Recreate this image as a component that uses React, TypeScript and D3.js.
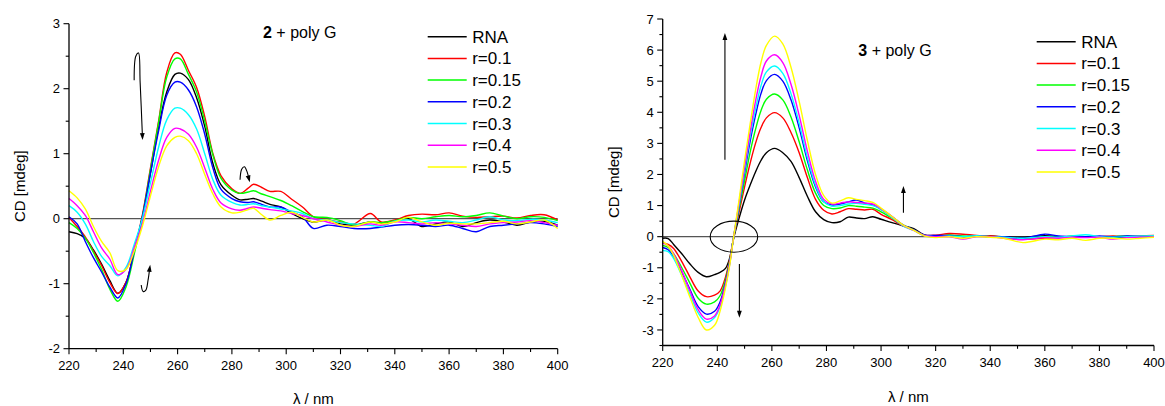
import React from "react";
import * as d3 from "d3";

// ---------- DATA ----------
const SERIES_NAMES = ["RNA", "r=0.1", "r=0.15", "r=0.2", "r=0.3", "r=0.4", "r=0.5"];
const SERIES_COLORS = ["#000000", "#ff0000", "#00ff00", "#0000ff", "#00ffff", "#ff00ff", "#ffff00"];

const X_TICKS = [220, 240, 260, 280, 300, 320, 340, 360, 380, 400];
const Y_TICKS_LEFT = [-2, -1, 0, 1, 2, 3];
const Y_TICKS_RIGHT = [-3, -2, -1, 0, 1, 2, 3, 4, 5, 6, 7];

// Left panel: 2 + poly G
const LAMBDA_L = [220, 223, 226, 229, 232, 235, 238, 241, 244, 247, 250, 253, 256, 259, 261, 264, 267, 270, 273, 276, 280, 283, 286, 288, 291, 294, 298, 302, 306, 310, 315, 320, 325, 331, 335, 340, 345, 350, 355, 360, 365, 370, 375, 380, 385, 390, 395, 400];
const RNA_L = [-0.2, -0.23, -0.3, -0.48, -0.7, -0.95, -1.15, -0.98, -0.5, 0.02, 0.7, 1.4, 1.95, 2.22, 2.24, 2.14, 1.86, 1.42, 0.85, 0.52, 0.36, 0.29, 0.3, 0.31, 0.27, 0.22, 0.18, 0.08, 0.0, -0.05, -0.02, -0.08, -0.1, -0.05, -0.07, -0.03, 0.0, -0.12, -0.08, -0.05, -0.12, -0.06, -0.02, -0.05, -0.1, -0.05, -0.04, -0.1];
const R01_L = [0.02, -0.12, -0.28, -0.5, -0.72, -0.98, -1.15, -0.98, -0.5, 0.05, 0.78, 1.5, 2.25, 2.55, 2.53, 2.28, 2.02, 1.57, 1.0, 0.66, 0.46, 0.39, 0.47, 0.53, 0.48, 0.42, 0.42, 0.3, 0.18, 0.03, -0.02, -0.05, -0.08, 0.08, -0.05, -0.02, 0.05, 0.07, 0.06, 0.09, 0.04, 0.02, 0.03, 0.04, 0.01, 0.05, 0.06, -0.02];
const R015_L = [-0.06, -0.15, -0.3, -0.52, -0.78, -1.08, -1.27, -1.05, -0.55, 0.02, 0.75, 1.48, 2.18, 2.46, 2.46, 2.22, 1.95, 1.5, 0.98, 0.62, 0.44, 0.39, 0.41, 0.43, 0.38, 0.34, 0.28, 0.2, 0.11, 0.03, 0.02, -0.03, -0.1, -0.05, -0.06, -0.03, 0.02, 0.0, 0.03, 0.05, 0.03, 0.05, 0.09, 0.04, 0.0, 0.03, 0.02, -0.03];
const R02_L = [0.03, -0.08, -0.35, -0.6, -0.82, -1.05, -1.22, -1.0, -0.5, 0.02, 0.7, 1.35, 1.9, 2.1, 2.1, 1.98, 1.72, 1.3, 0.78, 0.45, 0.31, 0.26, 0.25, 0.26, 0.22, 0.18, 0.18, 0.1, 0.03, -0.15, -0.1, -0.12, -0.15, -0.15, -0.13, -0.1, -0.09, -0.1, -0.12, -0.1, -0.15, -0.2, -0.12, -0.1, -0.08, -0.06, -0.08, -0.12];
const R03_L = [0.2, 0.1, -0.08, -0.35, -0.58, -0.72, -0.88, -0.75, -0.4, 0.0, 0.55, 1.1, 1.52, 1.7, 1.7, 1.6, 1.38, 1.0, 0.6, 0.36, 0.25, 0.21, 0.22, 0.23, 0.2, 0.18, 0.15, 0.12, 0.08, 0.0, -0.02, -0.06, -0.08, -0.1, -0.12, -0.04, -0.02, -0.05, -0.02, -0.04, -0.06, -0.02, 0.03, -0.02, -0.03, -0.01, -0.02, -0.06];
const R04_L = [0.31, 0.2, 0.05, -0.2, -0.45, -0.62, -0.86, -0.78, -0.45, -0.08, 0.42, 0.9, 1.25, 1.39, 1.38, 1.3, 1.1, 0.78, 0.45, 0.24, 0.15, 0.13, 0.16, 0.18, 0.16, 0.14, 0.12, 0.08, 0.05, 0.0, -0.05, -0.1, -0.12, -0.08, -0.1, -0.05, -0.06, -0.08, -0.06, -0.08, -0.1, -0.12, -0.08, -0.06, -0.05, -0.03, -0.06, -0.1];
const R05_L = [0.43, 0.32, 0.15, -0.12, -0.35, -0.52, -0.8, -0.78, -0.5, -0.12, 0.35, 0.8, 1.12, 1.25, 1.27, 1.2, 1.0, 0.68, 0.38, 0.18, 0.09, 0.1, 0.14, 0.16, 0.06, -0.02, 0.05, 0.1, 0.02, -0.05, -0.02, -0.1, -0.12, -0.05, -0.08, -0.05, 0.02, -0.05, -0.1, -0.07, -0.08, -0.08, -0.06, -0.04, -0.08, -0.05, -0.02, -0.15];

// Right panel: 3 + poly G
const LAMBDA_R = [220, 222, 224, 227, 230, 233, 236, 239, 241, 243, 244.5, 246, 248, 250, 252, 254, 256, 258, 261, 264, 267, 270, 273, 276, 279, 282, 285, 288, 291, 294, 297, 300, 304, 308, 312, 316, 320, 325, 330, 335, 340, 345, 352, 360, 365, 370, 375, 380, 385, 390, 395, 400];
const RNA_R = [-0.05, -0.06, -0.25, -0.55, -0.88, -1.15, -1.29, -1.22, -1.15, -1.02, -0.7, -0.05, 0.6, 1.18, 1.65, 2.08, 2.45, 2.7, 2.84, 2.7, 2.42, 1.9, 1.3, 0.8, 0.55, 0.45, 0.48, 0.63, 0.6, 0.58, 0.64, 0.56, 0.45, 0.35, 0.26, 0.05, 0.02, 0.05, 0.0, 0.02, 0.02, 0.0, -0.02, 0.03, 0.0, -0.02, 0.0, 0.0, -0.03, -0.01, 0.0, 0.01];
const R01_R = [-0.2, -0.25, -0.38, -0.8, -1.3, -1.75, -1.93, -1.88, -1.75, -1.3, -0.75, -0.02, 0.8, 1.6, 2.35, 3.0, 3.5, 3.82, 3.99, 3.82, 3.35, 2.7, 1.9, 1.2, 0.85, 0.73, 0.8, 0.9, 0.88, 0.86, 0.88, 0.72, 0.55, 0.35, 0.22, 0.05, 0.05, 0.1, 0.08, 0.04, 0.02, -0.02, -0.08, -0.05, -0.03, 0.0, -0.02, 0.0, 0.02, 0.0, 0.03, 0.04];
const R015_R = [-0.28, -0.35, -0.55, -1.0, -1.5, -1.98, -2.17, -2.1, -1.9, -1.4, -0.8, -0.02, 0.9, 1.8, 2.7, 3.45, 4.05, 4.42, 4.59, 4.4, 3.85, 3.05, 2.15, 1.4, 1.0, 0.9, 0.92, 1.0, 0.98, 0.95, 0.92, 0.8, 0.6, 0.38, 0.22, 0.04, 0.02, 0.05, 0.02, 0.02, 0.0, -0.03, -0.08, 0.0, -0.03, 0.02, 0.0, -0.03, 0.0, 0.02, 0.0, 0.02];
const R02_R = [-0.35, -0.42, -0.65, -1.15, -1.7, -2.25, -2.49, -2.4, -2.1, -1.5, -0.85, 0.0, 1.0, 2.05, 3.05, 3.9, 4.6, 5.02, 5.22, 5.0, 4.4, 3.5, 2.45, 1.6, 1.12, 1.02, 1.05, 1.12, 1.18, 1.08, 1.02, 0.88, 0.65, 0.38, 0.22, 0.05, 0.04, 0.03, 0.0, 0.02, 0.0, 0.0, -0.05, 0.08, 0.02, 0.0, 0.0, 0.02, 0.0, 0.02, 0.01, 0.0];
const R03_R = [-0.45, -0.48, -0.7, -1.25, -1.85, -2.45, -2.75, -2.6, -2.25, -1.6, -0.9, 0.0, 1.05, 2.15, 3.2, 4.1, 4.85, 5.3, 5.49, 5.25, 4.6, 3.65, 2.55, 1.65, 1.12, 0.98, 1.0, 1.05, 1.07, 1.04, 1.0, 0.88, 0.62, 0.35, 0.2, 0.03, 0.0, 0.02, 0.0, 0.03, 0.0, -0.02, -0.05, 0.0, -0.02, 0.02, 0.06, 0.0, -0.02, 0.0, 0.02, 0.03];
const R04_R = [-0.2, -0.3, -0.55, -1.1, -1.75, -2.35, -2.65, -2.55, -2.2, -1.55, -0.9, 0.0, 1.1, 2.25, 3.35, 4.35, 5.15, 5.65, 5.85, 5.6, 4.9, 3.9, 2.75, 1.78, 1.2, 1.05, 1.08, 1.12, 1.1, 1.08, 1.05, 0.9, 0.65, 0.37, 0.2, 0.03, 0.0, 0.0, -0.08, 0.0, 0.0, -0.05, -0.1, -0.03, -0.05, -0.02, -0.03, -0.02, -0.08, -0.03, -0.02, 0.0];
const R05_R = [-0.15, -0.3, -0.6, -1.25, -1.95, -2.6, -3.0, -2.85, -2.4, -1.65, -0.95, 0.0, 1.2, 2.45, 3.6, 4.7, 5.6, 6.15, 6.45, 6.2, 5.45, 4.35, 3.1, 2.0, 1.32, 1.08, 1.15, 1.25, 1.2, 1.16, 1.1, 0.92, 0.65, 0.38, 0.2, 0.02, -0.03, 0.0, -0.05, 0.0, -0.02, -0.05, -0.19, -0.08, -0.1, -0.05, -0.12, -0.05, -0.05, -0.08, -0.05, -0.02];

const SERIES_L = [RNA_L, R01_L, R015_L, R02_L, R03_L, R04_L, R05_L];
const SERIES_R = [RNA_R, R01_R, R015_R, R02_R, R03_R, R04_R, R05_R];

// annotation arrows in data units [lambda, CD]
const ARROWS_L = [
  [[244.0, 2.13], [244.6, 2.5], [245.6, 2.55], [246.2, 2.1], [247.1, 1.21]],
  [[283.0, 0.6], [283.6, 0.76], [284.6, 0.8], [285.6, 0.72], [286.6, 0.56]],
  [[246.6, -1.02], [247.3, -1.12], [248.3, -1.1], [249.1, -0.95], [249.9, -0.71]],
];
const ARROWS_R = [
  [[242.8, 2.47], [242.8, 6.55]],
  [[248.1, -0.88], [248.1, -2.61]],
  [[308.2, 0.77], [308.2, 1.63]],
];
const ELLIPSE_R = { cx: 246.1, cy: 0, rx: 8.7, ry: 0.5 };

const FONT = "'Liberation Sans', Arial, Helvetica, sans-serif";

type PanelProps = {
  lambda: number[];
  series: number[][];
  xRange: [number, number];
  yDomain: [number, number];
  yRange: [number, number];
  yTicks: number[];
  titleNum: string;
  titleX: number;
  titleY: number;
  legendX: number;
  legendY: number;
  yLabelX: number;
  xLabelY: number;
  arrows: number[][][];
  ellipse?: { cx: number; cy: number; rx: number; ry: number };
};

function Arrow({ pts, x, y }: { pts: number[][]; x: any; y: any }) {
  const p = pts.map((d) => [x(d[0]), y(d[1])] as [number, number]);
  const line = d3.line().curve(pts.length > 2 ? d3.curveCatmullRom.alpha(0.5) : d3.curveLinear);
  const tip = p[p.length - 1];
  const prev = p[p.length - 2];
  const ang = Math.atan2(tip[1] - prev[1], tip[0] - prev[0]);
  const L = 7, W = 2.4;
  const bx = tip[0] - L * Math.cos(ang), by = tip[1] - L * Math.sin(ang);
  const head = [
    tip,
    [bx + W * Math.sin(ang), by - W * Math.cos(ang)],
    [bx - W * Math.sin(ang), by + W * Math.cos(ang)],
  ];
  // shorten the line so it does not stick out of the head
  const pl = p.slice();
  pl[pl.length - 1] = [tip[0] - 4 * Math.cos(ang), tip[1] - 4 * Math.sin(ang)];
  return (
    <g>
      <path d={line(pl) || ""} fill="none" stroke="#000" strokeWidth={1.1} />
      <polygon points={head.map((h) => h.join(",")).join(" ")} fill="#000" />
    </g>
  );
}

function Panel(props: PanelProps) {
  const { lambda, series, xRange, yDomain, yRange, yTicks } = props;
  const x = d3.scaleLinear().domain([220, 400]).range(xRange);
  const y = d3.scaleLinear().domain(yDomain).range(yRange);
  const line = d3
    .line<number>()
    .x((_, i) => x(lambda[i]))
    .y((d) => y(d))
    .curve(d3.curveCatmullRom.alpha(0.5));

  const xMinor = d3.range(230, 400, 20);
  const yMinor = d3.range(yDomain[0], yDomain[1] + 0.001, 0.5).filter((v) => Math.abs(v - Math.round(v)) > 0.01);
  const x0 = xRange[0];
  const yb = y(yDomain[0]);
  const yTop = y(yTicks[yTicks.length - 1]);

  return (
    <g fontFamily={FONT}>
      {/* zero line */}
      <line x1={x0} x2={xRange[1]} y1={y(0)} y2={y(0)} stroke="#555" strokeWidth={1.2} />
      {/* curves */}
      {series.map((s, i) => (
        <path key={i} d={line(s) || ""} fill="none" stroke={SERIES_COLORS[i]} strokeWidth={1.4} strokeLinejoin="round" />
      ))}
      {/* axes */}
      <line x1={x0} x2={x0} y1={yTop} y2={yb} stroke="#000" strokeWidth={1.3} />
      <line x1={x0} x2={xRange[1]} y1={yb} y2={yb} stroke="#000" strokeWidth={1.3} />
      {yTicks.map((t) => (
        <g key={"y" + t}>
          <line x1={x0 - 5.5} x2={x0} y1={y(t)} y2={y(t)} stroke="#000" strokeWidth={1.1} />
          <text x={x0 - 9} y={y(t)} dy="0.36em" textAnchor="end" fontSize={13} fill="#000">
            {t}
          </text>
        </g>
      ))}
      {yMinor.map((t) => (
        <line key={"ym" + t} x1={x0 - 3.3} x2={x0} y1={y(t)} y2={y(t)} stroke="#000" strokeWidth={1.1} />
      ))}
      {X_TICKS.map((t) => (
        <g key={"x" + t}>
          <line x1={x(t)} x2={x(t)} y1={yb} y2={yb + 5.5} stroke="#000" strokeWidth={1.1} />
          <text x={x(t)} y={yb + 21} textAnchor="middle" fontSize={13} fill="#000">
            {t}
          </text>
        </g>
      ))}
      {xMinor.map((t) => (
        <line key={"xm" + t} x1={x(t)} x2={x(t)} y1={yb} y2={yb + 3.3} stroke="#000" strokeWidth={1.1} />
      ))}
      {/* axis labels */}
      <text
        transform={`translate(${props.yLabelX},${(yTop + yb) / 2}) rotate(-90)`}
        textAnchor="middle"
        fontSize={15}
        fill="#000"
      >
        CD [mdeg]
      </text>
      <text x={(xRange[0] + xRange[1]) / 2} y={props.xLabelY} textAnchor="middle" fontSize={15} fill="#000">
        λ / nm
      </text>
      {/* title */}
      <text x={props.titleX} y={props.titleY} fontSize={16} fill="#000">
        <tspan fontWeight="bold">{props.titleNum}</tspan>
        <tspan> + poly G</tspan>
      </text>
      {/* legend */}
      {SERIES_NAMES.map((n, i) => {
        const ly = props.legendY + i * 21.7;
        return (
          <g key={n}>
            <line x1={props.legendX} x2={props.legendX + 39} y1={ly} y2={ly} stroke={SERIES_COLORS[i]} strokeWidth={1.5} />
            <text x={props.legendX + 44.5} y={ly + 6} fontSize={17} fill="#000">
              {n}
            </text>
          </g>
        );
      })}
      {/* annotations */}
      {props.arrows.map((a, i) => (
        <Arrow key={i} pts={a} x={x} y={y} />
      ))}
      {props.ellipse && (
        <ellipse
          cx={x(props.ellipse.cx)}
          cy={y(props.ellipse.cy)}
          rx={x(props.ellipse.cx + props.ellipse.rx) - x(props.ellipse.cx)}
          ry={y(props.ellipse.cy) - y(props.ellipse.cy + props.ellipse.ry)}
          fill="none"
          stroke="#000"
          strokeWidth={1.1}
        />
      )}
    </g>
  );
}

export default function App() {
  return (
    <svg
      width={1165}
      height={406}
      viewBox="0 0 1165 406"
      style={{ position: "absolute", left: 0, top: 0, background: "#fff", display: "block" }}
    >
      <rect width={1165} height={406} fill="#fff" />
      <Panel
        lambda={LAMBDA_L}
        series={SERIES_L}
        xRange={[69, 557.7]}
        yDomain={[-2, 3]}
        yRange={[348.7, 23.7]}
        yTicks={Y_TICKS_LEFT}
        titleNum="2"
        titleX={263}
        titleY={37.7}
        legendX={427.7}
        legendY={36.7}
        yLabelX={25}
        xLabelY={404}
        arrows={ARROWS_L}
      />
      <Panel
        lambda={LAMBDA_R}
        series={SERIES_R}
        xRange={[662.7, 1154]}
        yDomain={[-3.5, 7]}
        yRange={[345.5, 19]}
        yTicks={Y_TICKS_RIGHT}
        titleNum="3"
        titleX={858.3}
        titleY={56}
        legendX={1036.7}
        legendY={41.7}
        yLabelX={619}
        xLabelY={401.5}
        arrows={ARROWS_R}
        ellipse={ELLIPSE_R}
      />
    </svg>
  );
}
